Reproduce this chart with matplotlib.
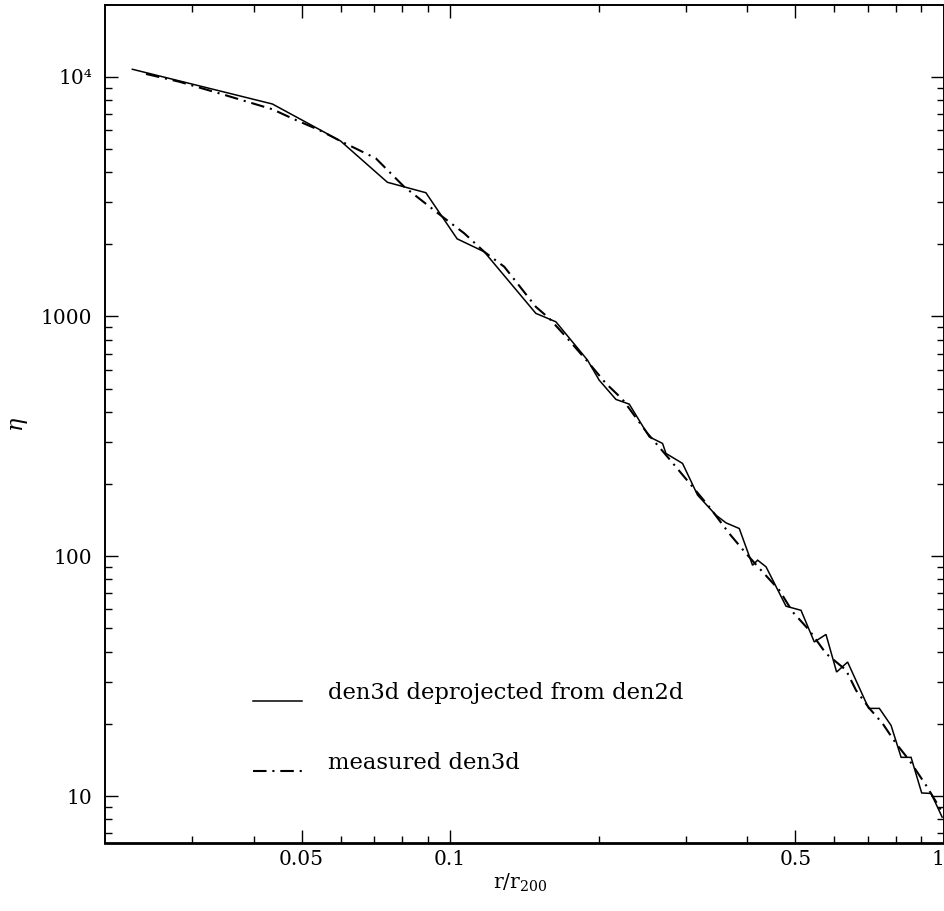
import matplotlib
matplotlib.use("Agg")
import matplotlib.pyplot as plt
from matplotlib.ticker import NullFormatter, FixedLocator
from matplotlib.lines import Line2D

# den3d deprojected from the projected (2D) density profile
r_deproj = [0.02272, 0.04365, 0.05999, 0.07464, 0.08929, 0.1033, 0.1172, 0.1491,
            0.1637, 0.1897, 0.2003, 0.2166, 0.2305, 0.2530, 0.2692, 0.2735,
            0.2955, 0.3170, 0.3454, 0.3619, 0.3850, 0.4096, 0.4194, 0.4362,
            0.4787, 0.5134, 0.5462, 0.5768, 0.6061, 0.6380, 0.7039, 0.7398,
            0.7813, 0.8188, 0.8576, 0.9012, 0.9417, 0.9913]
eta_deproj = [10737, 7692, 5391, 3626, 3281, 2107, 1861, 1030,
              950, 657.7, 542.7, 450.8, 430.9, 314.8, 295.4, 268.4,
              243.8, 179.8, 148.3, 137.8, 130.5, 91.7, 96.3, 90.3,
              61.9, 59.5, 43.9, 47.2, 32.9, 36.2, 23.2, 23.2,
              19.7, 14.5, 14.5, 10.3, 10.25, 8.17]

# directly measured 3D density profile
r_meas = [0.02422, 0.02825, 0.03404, 0.03977, 0.04365, 0.04868, 0.05428, 0.06032,
          0.07070, 0.08068, 0.09647, 0.1068, 0.1172, 0.1287, 0.1491, 0.1587,
          0.1716, 0.1912, 0.2067, 0.2234, 0.2510, 0.2755, 0.3097, 0.3347,
          0.3674, 0.3973, 0.4293, 0.4640, 0.4937, 0.5337, 0.5768, 0.6333,
          0.6635, 0.7063, 0.7513, 0.7998, 0.8508, 0.9198, 0.9926]
eta_meas = [10263, 9531, 8524, 7745, 7311, 6597, 5993, 5355,
            4565, 3475, 2605, 2221, 1861, 1611, 1097, 981.5,
            822.8, 637.1, 525.7, 450.8, 325.2, 259.7, 194.7, 160.6,
            124.4, 102.7, 86.0, 72.2, 58.6, 49.1, 39.3, 33.5,
            27.6, 23.2, 20.05, 16.55, 14.09, 11.08, 8.55]

x_major = [0.05, 0.1, 0.5, 1.0]
x_major_labels = ["0.05", "0.1", "0.5", "1"]
x_minor = [0.03, 0.04, 0.06, 0.07, 0.08, 0.09, 0.2, 0.3, 0.4, 0.6, 0.7, 0.8, 0.9]
y_major = [10, 100, 1000, 10000]
y_major_labels = ["10", "100", "1000", "10\u2074"]
y_minor = [m * 10 ** d for d in range(0, 5) for m in range(2, 10)]

labels = ["den3d deprojected from den2d", "measured den3d"]

plt.rcParams["font.family"] = ["DejaVu Serif", "DejaVu Sans"]
plt.rcParams["mathtext.fontset"] = "dejavuserif"

W, H = 945, 911
fig = plt.figure(figsize=(W / 100, H / 100), dpi=100)
ax = fig.add_axes([105 / W, 1 - 843 / H, 839 / W, 838 / H])
ax.set_xscale("log")
ax.set_yscale("log")
ax.set_xlim(0.02, 1.0)
ax.set_ylim(6.37, 1.99e4)

dashdot = (0, (6.5, 2.8, 1.0, 2.8))
ax.plot(r_deproj, eta_deproj, color="black", lw=1.1, solid_joinstyle="miter")
ax.plot(r_meas, eta_meas, color="black", lw=1.5, linestyle=dashdot)

ax.xaxis.set_major_locator(FixedLocator(x_major))
ax.set_xticklabels(x_major_labels)
ax.xaxis.set_minor_locator(FixedLocator(x_minor))
ax.xaxis.set_minor_formatter(NullFormatter())
ax.yaxis.set_major_locator(FixedLocator(y_major))
ax.set_yticklabels(y_major_labels)
ax.yaxis.set_minor_locator(FixedLocator(y_minor))
ax.yaxis.set_minor_formatter(NullFormatter())

ax.tick_params(which="both", direction="in", top=True, right=True, width=1.0)
ax.tick_params(which="major", length=9.5, labelsize=14.5)
ax.tick_params(axis="y", which="major", pad=9)
ax.tick_params(axis="x", which="major", pad=5)
ax.tick_params(which="minor", length=5)
for s in ax.spines.values():
    s.set_linewidth(1.4)
ax.spines["bottom"].set_linewidth(2.0)

# keep the last x label inside the figure edge
ax.get_xticklabels()[-1].set_horizontalalignment("right")

ax.set_xlabel("r/r$_{200}$", fontsize=14.5)
ax.xaxis.set_label_coords((520 - 105) / 839, -(883 - 843) / 838)
ax.xaxis.label.set_verticalalignment("center")
ax.set_ylabel(r"$\eta$", fontsize=16)
ax.yaxis.set_label_coords(-(105 - 19) / 839, (843 - 424) / 838)
ax.yaxis.label.set_verticalalignment("center")

# key drawn inside the frame
for ypos, style, lw, text in [(0.1695, "-", 1.1, labels[0]),
                              (0.0859, dashdot, 1.5, labels[1])]:
    ax.add_line(Line2D([0.1764, 0.2348], [ypos, ypos], transform=ax.transAxes,
                       color="black", lw=lw, linestyle=style))
    ax.text(0.2658, ypos + 0.002, text, transform=ax.transAxes,
            fontsize=16.3, va="baseline", ha="left")

fig.savefig("out.png", dpi=100)
